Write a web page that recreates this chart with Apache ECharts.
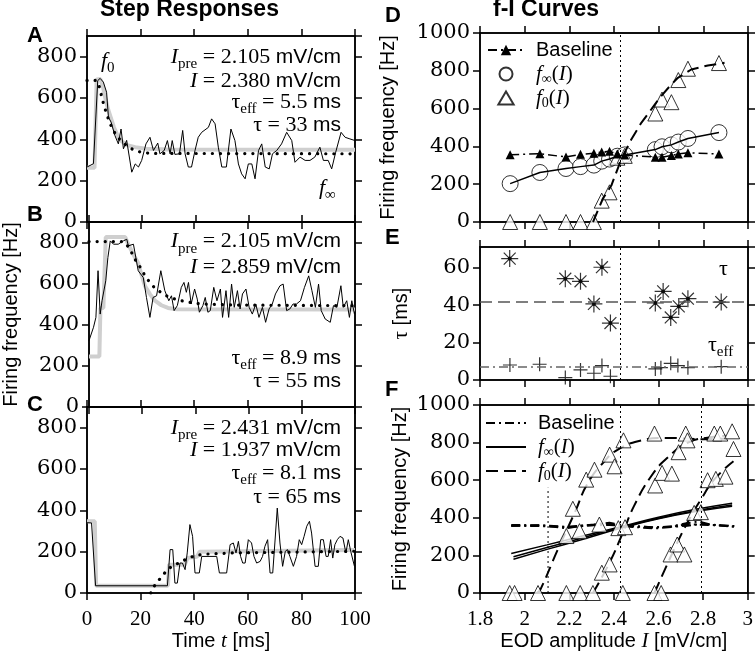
<!DOCTYPE html>
<html>
<head>
<meta charset="utf-8">
<script src="https://cdn.jsdelivr.net/npm/echarts@6/dist/echarts.min.js"></script>
<style>
  html, body { margin: 0; padding: 0; background: #fff; }
  #chart { width: 756px; height: 660px; }
</style>
</head>
<body>
<div id="chart"></div>
<script>
// ---- step responses (time in ms, rate in Hz) ----
const traceA = [[0,266],[2.4,282],[4,684],[4.9,695],[6.1,677],[7.3,628],[8,507],[9,483],[10.4,419],[11.7,378],[12.7,450],[13.6,354],[14.8,395],[16.7,241],[18,281],[19.2,266],[20.4,298],[22,378],[23.5,410],[24.8,346],[26.4,382],[27.2,330],[28.8,346],[30,394],[31,330],[31.8,394],[32.8,327],[34.5,330],[35.7,443],[36.6,330],[37.8,266],[39,266],[40.3,346],[41.5,410],[42.8,434],[45.3,458],[46.5,499],[47.8,475],[49,362],[50.3,266],[52,266],[53.7,450],[55.2,394],[56.5,281],[57.7,233],[59,209],[60.2,281],[61.5,281],[62.7,209],[64,346],[65.2,378],[66.5,266],[68,257],[69.2,330],[70.8,346],[72.6,378],[74.5,434],[76.4,394],[77.6,289],[79.5,314],[81.4,298],[83.2,298],[85,314],[86.9,362],[88.2,298],[90,298],[91.3,257],[92.8,338],[94.8,434],[96.3,410],[98.1,402],[100,394]];
const grayA = [[0,262],[2.8,262],[3.6,690],[5,692],[6,650],[7,590],[8,540],[9,500],[10,460],[11.7,410],[13,390],[15,372],[18,362],[22,355],[30,351],[100,350]];
const fitA = [[0,685],[3.5,685],[4.5,660],[5.5,605],[6.3,565],[7.3,524],[8.6,476],[9.8,444],[11.3,411],[13.3,387],[15.4,363],[17.3,350],[19.8,339],[23.5,332],[100,330]];

const traceB = [[0,323],[1.7,388],[2.6,436],[3.4,663],[4.2,452],[4.9,517],[5.5,509],[6.3,614],[7.1,727],[8,808],[9.2,792],[11,792],[12.9,808],[14.2,816],[14.8,784],[16.7,792],[18.5,663],[20.4,630],[21.6,533],[22.9,436],[24.1,533],[25.4,541],[27,663],[28.5,566],[30,517],[31,541],[32,469],[33.2,493],[34.7,582],[35.7,606],[36.6,558],[37.4,606],[38.4,501],[39.7,574],[40.7,525],[41.5,461],[42.8,493],[43.7,533],[44.7,461],[45.6,469],[46.9,582],[48.1,517],[49.4,574],[50.2,436],[51.5,566],[52.5,436],[53.6,598],[54.6,485],[55.8,566],[56.8,477],[57.7,550],[59,574],[60.2,485],[61.4,452],[62.7,501],[63.9,436],[65.2,485],[66.4,412],[67.7,477],[68.9,501],[70.1,550],[71.8,590],[73,598],[74.3,469],[75.5,477],[76.7,501],[78,501],[79.5,517],[81,582],[82.6,638],[83.8,566],[85.1,485],[86.3,598],[87.3,469],[88.8,428],[90.7,412],[91.9,493],[93.2,485],[94.7,590],[95.6,485],[96.9,517],[97.9,436],[98.8,517],[99.8,452]];
const grayB = [[0,246],[3.9,246],[4.3,482],[5.4,482],[6.3,827],[13.6,827],[14.8,790],[16,760],[17.3,727],[18.5,700],[19.8,640],[21,590],[22.9,549],[24.8,517],[27.2,495],[29.7,482],[33,476],[100,474]];
const fitB = [[0,805],[13,805],[15,776],[16.7,735],[17.9,703],[19.8,671],[21,638],[22.9,606],[24.8,578],[27,558],[29.1,541],[31.6,528],[34.7,517],[37.8,509],[42.2,501],[54.6,496],[100,493]];

const traceC = [[0,340],[1.7,339],[3.2,35],[30,35],[31,210],[32,210],[32.8,48],[33.7,48],[34.7,145],[35.6,145],[36.6,113],[37.4,194],[38.4,331],[39.4,274],[40.3,97],[41.9,97],[42.8,177],[48.4,177],[49.4,97],[52.1,97],[53.4,234],[54.6,242],[55.6,194],[56.5,250],[57.3,177],[58.1,145],[59,145],[60.2,258],[61.4,242],[62.3,177],[63.3,145],[64.6,153],[65.5,177],[66.4,226],[67.4,258],[68.3,97],[69.3,97],[70.1,242],[71,411],[72,242],[73,129],[74,202],[74.8,210],[75.7,177],[77,129],[78.2,177],[79.2,258],[80.1,234],[81,274],[82,323],[83,347],[83.8,290],[85.1,129],[86.3,129],[87.2,258],[88.2,258],[89.2,177],[90,177],[90.9,258],[91.7,169],[92.5,234],[93.4,258],[94.4,274],[95.5,266],[96.6,194],[97.5,258],[98.4,202],[99.1,210],[99.8,129]];
const grayC = [[0,347],[2.9,347],[3.4,35],[30.2,35],[30.6,137],[36.5,137],[37.5,170],[41,175],[42,200],[100,208]];
const fitC = [[23.8,0],[25.4,40],[27.5,73],[29.5,105],[31.6,129],[34.7,148],[37.8,169],[40.9,182],[44,188],[54.6,194],[100,202]];

// ---- f-I curves (EOD amplitude in mV/cm) ----
const dI     = [1.935, 2.068, 2.185, 2.250, 2.310, 2.345, 2.380, 2.415, 2.448, 2.585, 2.615, 2.657, 2.688, 2.731, 2.870];
const dBase  = [356, 361, 344, 358, 364, 370, 374, 360, 355, 343, 343, 352, 360, 366, 360];
const dFinf  = [203, 262, 283, 293, 301, 322, 333, 348, 355, 383, 398, 408, 423, 442, 473];
const dF0    = [0, 0, 0, 0, 0, 113, 157, 340, 350, 574, 648, 634, 751, 811, 841];
const dFitI  = [2.306, 2.35, 2.388, 2.433, 2.478, 2.523, 2.567, 2.605, 2.65, 2.686, 2.746, 2.82, 2.895];
const dFitF  = [0, 123, 193, 333, 438, 526, 596, 658, 719, 763, 807, 828, 842];
const iPre   = [2.105, 2.431, 2.79];

const tauI   = [1.933, 2.182, 2.25, 2.31, 2.346, 2.384, 2.585, 2.62, 2.654, 2.69, 2.731, 2.88];
const tauVal = [64.8, 54.1, 52.7, 40.6, 60.2, 30.4, 41.1, 47.3, 33.4, 39.3, 43.4, 41.6];
const effI   = [1.934, 2.067, 2.182, 2.25, 2.31, 2.346, 2.384, 2.585, 2.61, 2.654, 2.686, 2.731, 2.88];
const effVal = [8.0, 8.4, 1.3, 5.4, 3.6, 7.7, 2.0, 5.9, 6.6, 8.9, 7.7, 6.6, 7.1];
const tauMean = 42, effMean = 7;

const fTri1 = [[1.933,0],[1.955,0],[2.06,0],[2.187,303],[2.216,448],[2.246,329],[2.276,603],[2.313,656],[2.335,364],[2.381,736],[2.403,674],[2.443,812],[2.582,848],[2.722,848],[2.85,848]];
const fTri2 = [[2.187,0],[2.249,0],[2.306,0],[2.346,108],[2.381,152],[2.42,345],[2.45,350],[2.585,572],[2.616,639],[2.66,635],[2.69,749],[2.73,812],[2.877,848]];
const fTri3 = [[2.44,0],[2.582,0],[2.612,0],[2.654,205],[2.684,258],[2.716,205],[2.76,426],[2.79,430],[2.82,600],[2.857,607],[2.9,619],[2.93,860],[2.936,766]];
const fFit1 = [[2.055,0],[2.07,17],[2.149,232],[2.224,426],[2.284,586],[2.358,701],[2.418,763],[2.508,807],[2.627,825],[2.806,818],[2.9,822]];
const fFit2 = [[2.306,0],[2.38,160],[2.44,320],[2.49,462],[2.567,621],[2.64,719],[2.73,799],[2.82,826],[2.9,836]];
const fFit3 = [[2.582,0],[2.67,232],[2.737,391],[2.79,497],[2.85,604],[2.936,701]];
const fInf1 = [[1.94,210],[2.1,256],[2.25,300],[2.43,352],[2.6,403],[2.78,448],[2.93,478]];
const fInf2 = [[1.95,193],[2.1,242],[2.25,290],[2.43,348],[2.6,398],[2.78,440],[2.93,468]];
const fInf3 = [[1.95,180],[2.1,232],[2.25,282],[2.43,344],[2.6,395],[2.78,436],[2.93,462]];
const fBase1 = [[1.94,362],[2.07,360],[2.19,352],[2.25,358],[2.31,360],[2.38,362],[2.45,356],[2.58,350],[2.66,352],[2.73,358],[2.8,368],[2.88,360],[2.94,356]];
const fBase2 = [[1.94,356],[2.07,361],[2.19,344],[2.25,358],[2.31,364],[2.38,374],[2.45,355],[2.58,343],[2.66,352],[2.73,366],[2.87,360],[2.94,352]];
const fBase3 = [[1.94,358],[2.07,356],[2.19,350],[2.25,355],[2.31,362],[2.38,366],[2.45,360],[2.58,348],[2.66,355],[2.73,372],[2.78,380],[2.84,362],[2.94,354]];
const fPreTop = 560; // the first dotted marker stops below the legend

const SERIF = 'Liberation Serif';
const WIDE_SERIF = 'DejaVu Serif';
const SANS = 'Liberation Sans';
const pts = (xs, ys) => xs.map((x, i) => [x, ys[i]]);

const rich = {
  it:  { fontFamily: SERIF, fontStyle: 'italic', fontWeight: 'normal', fontSize: 22, lineHeight: 30, color: '#000' },
  rm:  { fontFamily: SERIF, fontWeight: 'normal', fontSize: 22, lineHeight: 30, color: '#000' },
  sub: { fontFamily: SERIF, fontWeight: 'normal', fontSize: 15, lineHeight: 14, verticalAlign: 'bottom', color: '#000' },
  sf:  { fontFamily: SANS, fontWeight: 'normal', fontSize: 21, lineHeight: 30, color: '#000' }
};
const legRich = {
  it:  { fontFamily: SERIF, fontStyle: 'italic', fontSize: 21, lineHeight: 24, color: '#000' },
  rm:  { fontFamily: SERIF, fontSize: 21, lineHeight: 24, color: '#000' },
  sub: { fontFamily: SERIF, fontSize: 14, lineHeight: 12, verticalAlign: 'bottom', color: '#000' }
};

function annR(right, yc, text) {
  return { text, right: 756 - right, top: yc - 15, padding: 0, itemGap: 0,
           textStyle: { fontSize: 22, fontWeight: 'normal', lineHeight: 30, rich } };
}
function annL(left, yc, text) {
  return { text, left, top: yc - 15, padding: 0, itemGap: 0,
           textStyle: { fontSize: 22, fontWeight: 'normal', lineHeight: 30, rich } };
}
function bold(text, left, yc, size) {
  return { text, left, top: yc - 13, padding: 0, itemGap: 0,
           textStyle: { fontFamily: SANS, fontWeight: 'bold', fontSize: size, lineHeight: 26, color: '#000' } };
}

const titles = [
  bold('Step Responses', 100, 10, 23),
  bold('f-I Curves', 493, 10, 23),
  bold('A', 27, 35.5, 22), bold('B', 27, 214.5, 22), bold('C', 27, 405, 22),
  bold('D', 385, 15.5, 22), bold('E', 385, 237.5, 22), bold('F', 385, 390, 22),
  annL(101, 61, '{it|f}{sub|0}'),
  annL(319, 188, '{it|f}{sub|∞}'),
  annR(341, 57, '{it|I}{sub|pre}{rm| = 2.105 }{sf|mV/cm}'),
  annR(341, 81, '{it|I}{rm| = 2.380 }{sf|mV/cm}'),
  annR(341, 102, '{rm|τ}{sub|eff}{rm| = 5.5 }{sf|ms}'),
  annR(341, 125, '{rm|τ = 33 }{sf|ms}'),
  annR(341, 241.5, '{it|I}{sub|pre}{rm| = 2.105 }{sf|mV/cm}'),
  annR(341, 267, '{it|I}{rm| = 2.859 }{sf|mV/cm}'),
  annR(341, 358, '{rm|τ}{sub|eff}{rm| = 8.9 }{sf|ms}'),
  annR(341, 381.7, '{rm|τ = 55 }{sf|ms}'),
  annR(341, 428, '{it|I}{sub|pre}{rm| = 2.431 }{sf|mV/cm}'),
  annR(341, 450, '{it|I}{rm| = 1.937 }{sf|mV/cm}'),
  annR(341, 473, '{rm|τ}{sub|eff}{rm| = 8.1 }{sf|ms}'),
  annR(341, 497, '{rm|τ = 65 }{sf|ms}'),
  annL(719, 269, '{rm|τ}'),
  annL(708, 345, '{rm|τ}{sub|eff}')
];

const grids = [
  { left: 87, top: 36, width: 268, height: 186 },
  { left: 87, top: 222, width: 268, height: 185 },
  { left: 87, top: 407, width: 268, height: 186 },
  { left: 480, top: 33, width: 268, height: 189 },
  { left: 480, top: 247, width: 268, height: 133 },
  { left: 480, top: 405, width: 268, height: 188 }
].map(g => Object.assign({ show: true, borderColor: '#000', borderWidth: 1.5 }, g));

const yMax = [900, 900, 900, 1000, 71, 1000];
const yStep = [200, 200, 200, 200, 20, 200];
const xFont = { fontFamily: SERIF, fontSize: 21, color: '#000' };
const yFont = { fontFamily: WIDE_SERIF, fontSize: 21, color: '#000' };
const nameFont = { fontFamily: SANS, fontSize: 20, color: '#000',
                   rich: { it: { fontFamily: SERIF, fontStyle: 'italic', fontSize: 21 }, rm: { fontFamily: SERIF, fontSize: 21 } } };

function xAxisFor(g, pos, labels, name) {
  const right = g >= 3;
  return {
    type: 'value', gridIndex: g, position: pos,
    min: right ? 1.8 : 0, max: right ? 3 : 100, interval: right ? 0.2 : 20,
    axisLine: { show: true, onZero: false, lineStyle: { color: '#000', width: 1.5 } },
    axisTick: { show: true, length: 7, lineStyle: { color: '#000', width: 1.5 } },
    axisLabel: Object.assign({ show: labels, margin: 16,
      formatter: v => String(Math.round(v * 10) / 10) }, xFont),
    splitLine: { show: false },
    name: name || '', nameLocation: 'middle', nameGap: 34, nameTextStyle: nameFont
  };
}
function yAxisFor(g, pos, labels, name, gap) {
  return {
    type: 'value', gridIndex: g, position: pos,
    min: 0, max: yMax[g], interval: yStep[g],
    axisLine: { show: true, onZero: false, lineStyle: { color: '#000', width: 1.5 } },
    axisTick: { show: true, length: 7, lineStyle: { color: '#000', width: 1.5 } },
    axisLabel: Object.assign({ show: labels, margin: 10,
      showMaxLabel: yMax[g] % yStep[g] === 0, formatter: v => String(v) }, yFont),
    splitLine: { show: false },
    name: name || '', nameLocation: 'middle', nameGap: gap || 0, nameRotate: 90, nameTextStyle: nameFont
  };
}

const xAxes = [], yAxes = [];
for (let g = 0; g < 6; g++) {
  xAxes.push(xAxisFor(g, 'bottom', g === 2 || g === 5,
    g === 2 ? 'Time {it|t} [ms]' : (g === 5 ? 'EOD amplitude {it|I} [mV/cm]' : '')));
}
for (let g = 0; g < 6; g++) xAxes.push(xAxisFor(g, 'top', false));
const yNames = ['', 'Firing frequency [Hz]', '', 'Firing frequency [Hz]', '{rm|τ} [ms]', 'Firing frequency [Hz]'];
const yGaps = [0, 68, 0, 82, 68, 70];
for (let g = 0; g < 6; g++) yAxes.push(yAxisFor(g, 'left', true, yNames[g], yGaps[g]));
for (let g = 0; g < 6; g++) yAxes.push(yAxisFor(g, 'right', false));

function ln(g, data, lineStyle, extra) {
  return Object.assign({ type: 'line', xAxisIndex: g, yAxisIndex: g, data, symbol: 'none',
    itemStyle: { color: '#000' },
    lineStyle: Object.assign({ color: '#000', width: 1 }, lineStyle), silent: true }, extra || {});
}
function vMark(values) {
  return { symbol: ['none', 'none'], silent: true, label: { show: false },
    lineStyle: { color: '#000', width: 1, type: [2, 3] },
    data: values.map(v => ({ xAxis: v })) };
}
const dotted = { width: 3.2, type: [0.1, 8], cap: 'round' };
const grayStyle = { color: '#cfcfcf', width: 4 };
const dashDot = [9, 4, 2, 4];
const longDash = [12, 6];
const openTri = { color: '#fff', borderColor: '#000', borderWidth: 1 };
const STAR = 'path://M10,0L10,20M0,10L20,10M3,3L17,17M17,3L3,17';
const PLUS = 'path://M10,0L10,20M0,10L20,10';
const TRI_ICON = 'path://M10,0L20,17L0,17Z';

const series = [
  ln(0, grayA, grayStyle), ln(0, traceA, {}), ln(0, fitA, dotted),
  ln(1, grayB, grayStyle), ln(1, traceB, {}), ln(1, fitB, dotted),
  ln(2, grayC, grayStyle), ln(2, traceC, {}), ln(2, fitC, dotted),

  // D
  ln(3, pts(dI, dBase), { width: 1.5, type: dashDot }, {
    name: 'Baseline', symbol: 'triangle', symbolSize: 9, showSymbol: true,
    markLine: vMark([iPre[1]]) }),
  ln(3, pts(dI, dFinf), { width: 1.5 }),
  ln(3, pts(dFitI, dFitF), { width: 2, type: longDash }),
  { type: 'scatter', name: 'finf', xAxisIndex: 3, yAxisIndex: 3, data: pts(dI, dFinf),
    symbol: 'circle', symbolSize: 16, itemStyle: { color: '#fff', borderColor: '#000', borderWidth: 1 }, silent: true },
  { type: 'scatter', name: 'f0', xAxisIndex: 3, yAxisIndex: 3, data: pts(dI, dF0),
    symbol: 'triangle', symbolSize: 15, itemStyle: openTri, silent: true },

  // E
  { type: 'scatter', xAxisIndex: 4, yAxisIndex: 4, data: pts(tauI, tauVal), symbol: STAR, symbolSize: 17,
    itemStyle: { color: 'none', borderColor: '#000', borderWidth: 1.2 }, silent: true, z: 3,
    markLine: { symbol: ['none', 'none'], silent: true, label: { show: false },
      data: [
        { yAxis: tauMean, lineStyle: { color: '#555', width: 1.5, type: longDash } },
        { yAxis: effMean, lineStyle: { color: '#666', width: 1.5, type: dashDot } },
        { xAxis: iPre[1], lineStyle: { color: '#000', width: 1, type: [2, 3] } }
      ] } },
  { type: 'scatter', xAxisIndex: 4, yAxisIndex: 4, data: pts(tauI, tauVal), symbol: 'circle', symbolSize: 4,
    itemStyle: { color: '#000' }, silent: true, z: 3 },
  { type: 'scatter', xAxisIndex: 4, yAxisIndex: 4, data: pts(effI, effVal), symbol: PLUS, symbolSize: 14,
    itemStyle: { color: 'none', borderColor: '#000', borderWidth: 1.2 }, silent: true, z: 3 },

  // F
  ln(5, [[iPre[0], 0], [iPre[0], fPreTop]], { width: 1, type: [2, 3] }, { markLine: vMark([iPre[1], iPre[2]]) }),
  ln(5, fBase1, { width: 2, type: dashDot }, { name: 'F-Baseline' }),
  ln(5, fBase2, { width: 2, type: dashDot }, { name: 'F-Baseline' }),
  ln(5, fBase3, { width: 2, type: dashDot }, { name: 'F-Baseline' }),
  ln(5, fInf1, { width: 1.5 }, { name: 'F-finf', smooth: true }),
  ln(5, fInf2, { width: 1.5 }, { name: 'F-finf', smooth: true }),
  ln(5, fInf3, { width: 1.5 }, { name: 'F-finf', smooth: true }),
  ln(5, fFit1, { width: 2, type: longDash }, { name: 'F-f0', smooth: true }),
  ln(5, fFit2, { width: 2, type: longDash }, { name: 'F-f0', smooth: true }),
  ln(5, fFit3, { width: 2, type: longDash }, { name: 'F-f0', smooth: true }),
  { type: 'scatter', xAxisIndex: 5, yAxisIndex: 5, data: fTri1, symbol: 'triangle', symbolSize: 15, itemStyle: openTri, silent: true, z: 4 },
  { type: 'scatter', xAxisIndex: 5, yAxisIndex: 5, data: fTri2, symbol: 'triangle', symbolSize: 15, itemStyle: openTri, silent: true, z: 4 },
  { type: 'scatter', xAxisIndex: 5, yAxisIndex: 5, data: fTri3, symbol: 'triangle', symbolSize: 15, itemStyle: openTri, silent: true, z: 4 }
];

function legendName(name) {
  if (name.indexOf('Baseline') >= 0) return 'Baseline';
  if (name.indexOf('finf') >= 0) return '{it|f}{sub|∞}{rm|(}{it|I}{rm|)}';
  return '{it|f}{sub|0}{rm|(}{it|I}{rm|)}';
}
const legendBase = {
  orient: 'vertical', padding: 0, itemGap: 0, itemHeight: 13, selectedMode: false,
  formatter: legendName,
  textStyle: { fontFamily: SANS, fontSize: 20, lineHeight: 24, color: '#000', padding: [0, 0, 0, 7], rich: legRich }
};

const chart = echarts.init(document.getElementById('chart'), null, { renderer: 'canvas' });
chart.setOption({
  animation: false,
  backgroundColor: '#fff',
  title: titles,
  legend: [
    Object.assign({}, legendBase, {
      data: ['Baseline', 'finf', { name: 'f0', icon: TRI_ICON }],
      left: 487, top: 38, itemWidth: 36 }),
    Object.assign({}, legendBase, {
      data: ['F-Baseline', 'F-finf', 'F-f0'],
      left: 485, top: 411, itemWidth: 40, itemStyle: { opacity: 0 } })
  ],
  grid: grids,
  xAxis: xAxes,
  yAxis: yAxes,
  series
});
</script>
</body>
</html>
